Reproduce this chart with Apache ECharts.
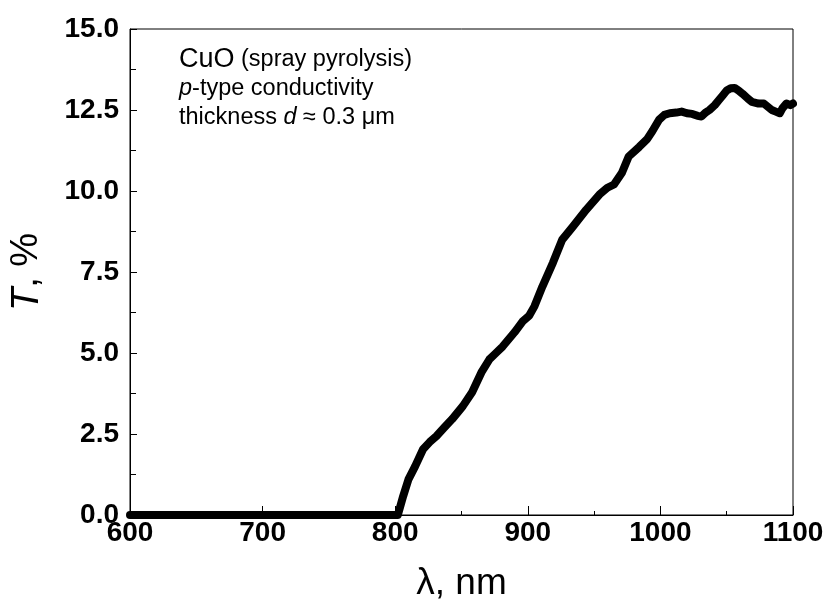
<!DOCTYPE html>
<html>
<head>
<meta charset="utf-8">
<script src="https://cdn.jsdelivr.net/npm/echarts@6/dist/echarts.min.js"></script>
<style>
  html, body { margin: 0; padding: 0; background: #fff; }
  #chart { width: 832px; height: 607px; }
</style>
</head>
<body>
<div id="chart"></div>
<script>
// Optical transmittance spectrum of a CuO film
const wavelength = [
  600, 802, 806, 810, 815, 821, 826, 831, 837, 843, 851, 858, 865, 871, 876,
  881, 890, 896, 901, 905, 911, 919, 926, 934, 944, 954, 960, 965, 971, 976,
  984, 990, 994, 999, 1003, 1007, 1012, 1016, 1020, 1024, 1028, 1031, 1034,
  1037, 1041, 1044, 1047, 1050, 1053, 1056, 1059, 1062, 1066, 1069, 1074,
  1078, 1081, 1084, 1087, 1090, 1092, 1095, 1098, 1100
];
const transmittance = [
  0, 0, 0.58, 1.1, 1.5, 2.03, 2.25, 2.43, 2.7, 2.96, 3.36, 3.79, 4.4, 4.8, 5.0,
  5.2, 5.64, 5.97, 6.15, 6.44, 7.05, 7.79, 8.5, 8.9, 9.42, 9.89, 10.1, 10.2, 10.56, 11.06,
  11.36, 11.6, 11.85, 12.2, 12.35, 12.4, 12.42, 12.45, 12.4, 12.38, 12.32, 12.3, 12.42,
  12.5, 12.65, 12.8, 12.95, 13.1, 13.17, 13.18, 13.1, 13.0, 12.85, 12.75, 12.7,
  12.7, 12.6, 12.5, 12.45, 12.4, 12.55, 12.7, 12.65, 12.7
];
const xTicks = [600, 700, 800, 900, 1000, 1100];
const yTicks = [0, 2.5, 5, 7.5, 10, 12.5, 15];

const FONT = '"Liberation Sans", Arial, Helvetica, sans-serif';

const chart = echarts.init(document.getElementById('chart'), null, { renderer: 'canvas' });

const points = wavelength.map((w, i) => [w, transmittance[i]]);

chart.setOption({
  backgroundColor: '#ffffff',
  animation: false,
  grid: {
    left: 129, right: 39, top: 29, bottom: 91,
    show: true, borderColor: '#000', borderWidth: 1, backgroundColor: 'transparent'
  },
  xAxis: {
    type: 'value',
    min: xTicks[0], max: xTicks[xTicks.length - 1], interval: 100,
    name: 'λ, nm',
    nameLocation: 'middle',
    nameGap: 50,
    nameTextStyle: { fontFamily: FONT, fontSize: 37, color: '#000' },
    axisLine: { show: true, onZero: false, lineStyle: { color: '#000', width: 1 } },
    axisTick: { show: true, inside: true, length: 9, lineStyle: { color: '#000', width: 1 } },
    minorTick: { show: true, splitNumber: 2, length: 4, lineStyle: { color: '#000', width: 1 } },
    splitLine: { show: false },
    axisLabel: {
      fontFamily: FONT, fontSize: 28, fontWeight: 'bold', color: '#000', margin: 4,
      formatter: v => String(v)
    }
  },
  yAxis: {
    type: 'value',
    min: yTicks[0], max: yTicks[yTicks.length - 1], interval: 2.5,
    name: '{i|T}, %',
    nameLocation: 'middle',
    nameRotate: 90,
    nameGap: 84,
    nameTextStyle: {
      fontFamily: FONT, fontSize: 38, color: '#000',
      rich: { i: { fontFamily: FONT, fontSize: 38, fontStyle: 'italic', color: '#000' } }
    },
    axisLine: { show: true, onZero: false, lineStyle: { color: '#000', width: 1 } },
    axisTick: { show: true, inside: true, length: 7, lineStyle: { color: '#000', width: 1 } },
    minorTick: { show: true, splitNumber: 2, length: 6, lineStyle: { color: '#000', width: 1 } },
    splitLine: { show: false },
    axisLabel: {
      fontFamily: FONT, fontSize: 28, fontWeight: 'bold', color: '#000', margin: 11,
      formatter: v => v.toFixed(1)
    }
  },
  series: [{
    type: 'line',
    data: points,
    showSymbol: false,
    symbol: 'none',
    clip: true,
    lineStyle: { color: '#000', width: 8, cap: 'round', join: 'round' }
  }],
  graphic: [{
    type: 'text',
    left: 179,
    top: 46,
    z: 10,
    style: {
      text: '{a|CuO}{b| (spray pyrolysis)}\n{ip|p}{b|-type conductivity}\n{b|thickness }{ip|d}{b| ≈ 0.3 μm}',
      fill: '#000',
      rich: {
        a: { fontFamily: FONT, fontSize: 27, lineHeight: 29, fill: '#000' },
        b: { fontFamily: FONT, fontSize: 23.5, lineHeight: 29, fill: '#000' },
        ip: { fontFamily: FONT, fontSize: 23.5, lineHeight: 29, fontStyle: 'italic', fill: '#000' }
      }
    }
  }]
});
</script>
</body>
</html>
